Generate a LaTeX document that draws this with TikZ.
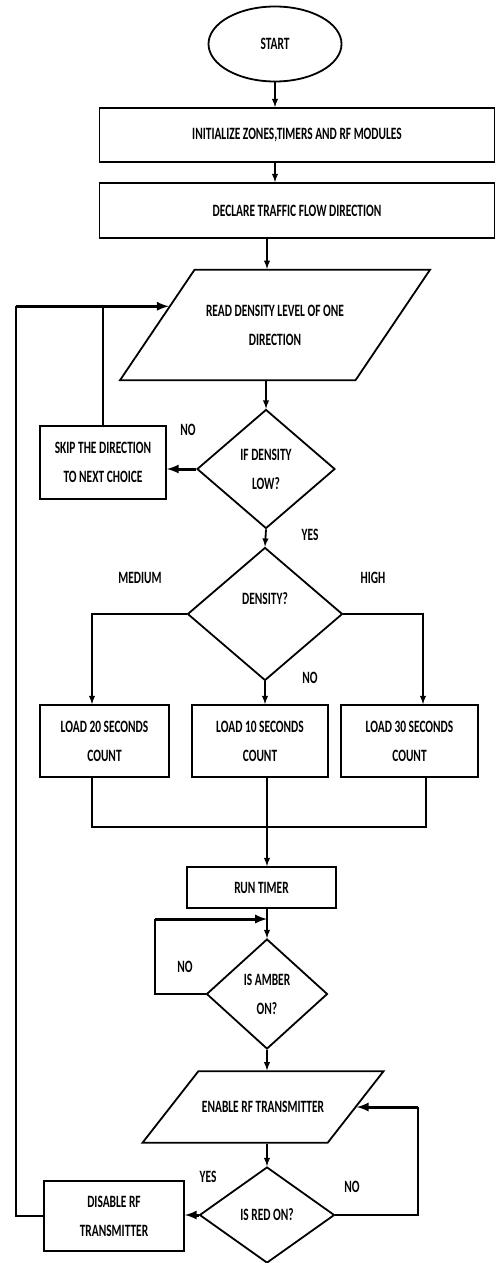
\documentclass[tikz,border=0pt]{standalone}
\usepackage{fontspec}
\setmainfont{Carlito}[FakeStretch=0.66]
\usetikzlibrary{shapes.geometric}
\begin{document}
\begin{tikzpicture}[x=1pt,y=-1pt,line width=1.8pt,
  font=\fontsize{17.3}{29}\selectfont\bfseries,
  box/.style={draw,rectangle,inner sep=0pt,align=center},
  dec/.style={draw,diamond,inner sep=0pt,align=center},
  io/.style={draw,trapezium,trapezium stretches body,inner xsep=0pt,align=center},
  flow/.style={-latex},
  back/.style={-latex,line width=3pt}]
\useasboundingbox (0,0) rectangle (496,1263);
\node[draw,ellipse,minimum width=133pt,minimum height=75pt](start) at (275,44){START};
\node[box,minimum width=395pt,minimum height=54pt](init) at (297,135){INITIALIZE ZONES,TIMERS AND RF MODULES};
\node[box,minimum width=395pt,minimum height=55pt](decl) at (297,210.5){DECLARE TRAFFIC FLOW DIRECTION};
\node[io,trapezium left angle=56,trapezium right angle=124,inner ysep=35pt,minimum width=310pt](read) at (275,325){READ DENSITY LEVEL OF ONE\\DIRECTION};
\node[dec,minimum width=138pt,minimum height=119pt](low) at (266,469){IF DENSITY\\LOW?};
\node[box,minimum width=126pt,minimum height=73pt](skip) at (103,462.5){SKIP THE DIRECTION\\TO NEXT CHOICE};
\node[dec,minimum width=155pt,minimum height=133pt,text depth=30pt](dens) at (265,614){DENSITY?};
\node[box,minimum width=129pt,minimum height=72pt](load20) at (104.5,741){LOAD 20 SECONDS\\COUNT};
\node[box,minimum width=136pt,minimum height=72pt](load10) at (260,741){LOAD 10 SECONDS\\COUNT};
\node[box,minimum width=137pt,minimum height=72pt](load30) at (409.5,741){LOAD 30 SECONDS\\COUNT};
\node[box,minimum width=149pt,minimum height=41pt](run) at (261.5,887.5){RUN TIMER};
\node[dec,minimum width=121pt,minimum height=110pt](amber) at (267,994){IS AMBER\\ON?};
\node[io,trapezium left angle=52,trapezium right angle=128,inner ysep=30pt,minimum width=241pt](enable) at (263,1107){ENABLE RF TRANSMITTER};
\node[dec,minimum width=135pt,minimum height=96pt](red) at (267,1215){IS RED ON?};
\node[box,minimum width=140pt,minimum height=70pt](disable) at (114,1216){DISABLE RF\\TRANSMITTER};
% labels
\node(nolow) at (188,430){NO};
\node(yeslow) at (310,535){YES};
\node(medium) at (140,578){MEDIUM};
\node(high) at (373,578){HIGH};
\node(nodens) at (310,678){NO};
\node(noamber) at (185,967){NO};
\node(yesred) at (208,1177){YES};
\node(nored) at (352,1187){NO};
% turning points
\coordinate(medturn) at (92,0 |- dens.west);
\coordinate(highturn) at (423,0 |- dens.west);
\coordinate(j20) at (92,827);
\coordinate(j30) at (426,827);
\coordinate(merge) at (267,827);
\coordinate(amberloop) at (155,919);
\coordinate(redloop) at (418,0 |- enable.east);
\coordinate(mainloop) at (16,0 |- read.170);
% main flow
\draw[flow](start.south)--(start.south |- init.north);
\draw[flow](init.south -| start)--(decl.north -| start);
\draw[flow](decl.south -| 267,0)--(read.north -| 267,0);
\draw[flow](read.south -| low)--(low.north);
\draw[back](low.west)--(low.west -| skip.east);
\draw[flow](low.south)--(dens.north);
\draw[flow](dens.west)--(medturn)--(medturn |- load20.north);
\draw[flow](dens.east)--(highturn)--(highturn |- load30.north);
\draw[flow](dens.south)--(dens.south |- load10.north);
\draw(j20 |- load20.south)--(j20)--(j30)--(j30 |- load30.south);
\draw(merge |- load10.south)--(merge);
\draw[flow](merge)--(merge |- run.north);
\draw[flow](merge |- run.south)--(amber.north);
\draw(amber.west)-|(amberloop);
\draw[back](amberloop)--(amberloop -| amber.north);
\draw[flow](amber.south)--(amber.south |- enable.north);
\draw[flow](red.north |- enable.south)--(red.north);
\draw[back](red.west)--(red.west -| disable.east);
\draw(red.east)-|(redloop);
\draw[back](redloop)--(enable.east);
% back to reading
\draw(disable.west)-|(mainloop);
\draw(skip.north)--(skip.north |- mainloop);
\draw[back](mainloop)--(read.170);
\end{tikzpicture}
\end{document}
